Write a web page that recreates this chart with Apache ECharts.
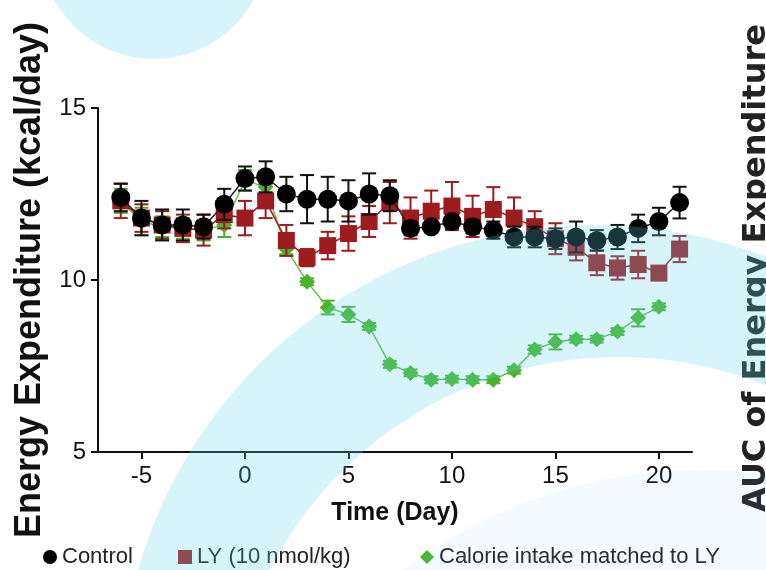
<!DOCTYPE html>
<html>
<head>
<meta charset="UTF-8">
<title>Energy Expenditure</title>
<script src="https://cdn.jsdelivr.net/npm/echarts@6/dist/echarts.min.js"></script>
<style>
  html, body { margin:0; padding:0; background:#fff; }
  #chart { width:766px; height:570px; }
</style>
</head>
<body>
<div id="chart"></div>
<script>
// days of the study, day 0 = first dose
var days = [-6,-5,-4,-3,-2,-1,0,1,2,3,4,5,6,7,8,9,10,11,12,13,14,15,16,17,18,19,20,21];
var xTicks = [-5,0,5,10,15,20];

// Control
var control    = [12.4,11.8,11.6,11.6,11.55,12.2,12.95,13.0,12.5,12.35,12.35,12.3,12.5,12.45,11.5,11.55,11.7,11.55,11.45,11.25,11.25,11.2,11.25,11.15,11.25,11.5,11.7,12.25];
var controlSem = [0.4,0.5,0.45,0.45,0.35,0.45,0.35,0.45,0.5,0.7,0.65,0.6,0.6,0.45,0.2,0.15,0.2,0.2,0.25,0.3,0.3,0.3,0.45,0.3,0.35,0.4,0.4,0.46];

// LY (10 nmol/kg)
var ly    = [12.3,11.8,11.6,11.5,11.45,11.9,11.8,12.3,11.15,10.65,11.0,11.35,11.7,12.25,11.8,12.0,12.15,11.85,12.05,11.8,11.55,11.2,10.95,10.5,10.35,10.45,10.2,10.9];
var lySem = [0.5,0.4,0.4,0.4,0.45,0.4,0.5,0.5,0.45,0.25,0.4,0.5,0.45,0.6,0.6,0.6,0.7,0.6,0.65,0.6,0.45,0.45,0.38,0.36,0.34,0.4,0.15,0.38];

// Calorie intake matched to LY (no day 21)
var pairDays = [-6,-5,-4,-3,-2,-1,0,1,2,3,4,5,6,7,8,9,10,11,12,13,14,15,16,17,18,19,20];
var pair     = [12.3,11.7,11.55,11.5,11.45,11.6,12.9,12.7,10.9,9.95,9.2,9.0,8.65,7.55,7.3,7.1,7.12,7.1,7.1,7.38,7.98,8.2,8.28,8.28,8.5,8.9,9.22];
var pairSem  = [0.35,0.4,0.3,0.3,0.3,0.35,0.3,0.3,0.15,0.1,0.2,0.22,0.1,0.1,0.1,0.1,0.1,0.1,0.1,0.1,0.12,0.22,0.1,0.1,0.1,0.25,0.1];

var names = ['Control', 'LY (10 nmol/kg)', 'Calorie intake matched to LY'];
var colors = ['#000000', '#9c1c1f', '#48b42a'];

function pts(xs, ys) {
  return xs.map(function (x, i) { return [x, ys[i]]; });
}
function errData(xs, ys, es) {
  return xs.map(function (x, i) { return [x, ys[i] - es[i], ys[i] + es[i]]; });
}
function errBars(color, cap) {
  return function (params, api) {
    var lo = api.coord([api.value(0), api.value(1)]);
    var hi = api.coord([api.value(0), api.value(2)]);
    var st = { stroke: color, lineWidth: 2 };
    return { type: 'group', children: [
      { type: 'line', shape: { x1: lo[0], y1: lo[1], x2: hi[0], y2: hi[1] }, style: st },
      { type: 'line', shape: { x1: lo[0] - cap, y1: lo[1], x2: lo[0] + cap, y2: lo[1] }, style: st },
      { type: 'line', shape: { x1: hi[0] - cap, y1: hi[1], x2: hi[0] + cap, y2: hi[1] }, style: st }
    ]};
  };
}

// background swoosh: big circle with a smaller (off-centre) hole
function holedCircle(c1, r1, c2, r2) {
  var out = [], n = 240, i, t;
  for (i = 0; i <= n; i++) { t = 2 * Math.PI * i / n; out.push([c1[0] + r1 * Math.cos(t), c1[1] + r1 * Math.sin(t)]); }
  for (i = n; i >= 0; i--) { t = 2 * Math.PI * i / n; out.push([c2[0] + r2 * Math.cos(t), c2[1] + r2 * Math.sin(t)]); }
  return out;
}

var chart = echarts.init(document.getElementById('chart'));
var tint = 'rgba(100,210,240,0.25)';

var option = {
  animation: false,
  backgroundColor: '#fff',
  textStyle: { fontFamily: 'Liberation Sans, Arial, sans-serif', color: '#111' },
  grid: { left: 98, right: 74, top: 108, bottom: 118 },
  legend: [
    { left: 38, top: 541, itemWidth: 14, itemHeight: 14, selectedMode: false,
      textStyle: { fontSize: 22, color: '#222' }, data: [{ name: names[0], icon: 'circle' }] },
    { left: 173, top: 541, itemWidth: 14, itemHeight: 14, selectedMode: false,
      textStyle: { fontSize: 22, color: '#222' }, data: [{ name: names[1], icon: 'rect' }] },
    { left: 415, top: 541, itemWidth: 14, itemHeight: 14, selectedMode: false,
      textStyle: { fontSize: 22, color: '#222' }, data: [{ name: names[2], icon: 'diamond' }] }
  ],
  xAxis: {
    type: 'value', min: -7.1, max: 21.6,
    name: 'Time (Day)', nameLocation: 'middle', nameGap: 49,
    nameTextStyle: { fontSize: 25, fontWeight: 'bold', color: '#111' },
    axisLine: { onZero: false, lineStyle: { color: '#111', width: 2 } },
    axisTick: { length: 7, lineStyle: { width: 2, color: '#111' }, customValues: xTicks },
    axisLabel: { fontSize: 24, color: '#111', margin: 12, customValues: xTicks },
    splitLine: { show: false }
  },
  yAxis: {
    type: 'value', min: 5, max: 15, interval: 5,
    name: 'Energy Expenditure (kcal/day)', nameLocation: 'middle', nameGap: 46, nameRotate: 90,
    nameTextStyle: { fontSize: 36, fontWeight: 'bold', color: '#111' },
    axisLine: { show: true, onZero: false, lineStyle: { color: '#111', width: 2 } },
    axisTick: { show: true, length: 7, lineStyle: { width: 2, color: '#111' } },
    axisLabel: { fontSize: 24, color: '#111', margin: 12 },
    splitLine: { show: false }
  },
  series: [
    { type: 'custom', name: names[2] + ' sem', z: 2, renderItem: errBars(colors[2], 7),
      encode: { x: 0, y: [1, 2] }, data: errData(pairDays, pair, pairSem) },
    { type: 'line', name: names[2], z: 3, data: pts(pairDays, pair), symbol: 'diamond', symbolSize: 16,
      itemStyle: { color: colors[2] }, lineStyle: { color: '#62c246', width: 1.5 } },
    { type: 'custom', name: names[1] + ' sem', z: 4, renderItem: errBars(colors[1], 7),
      encode: { x: 0, y: [1, 2] }, data: errData(days, ly, lySem) },
    { type: 'line', name: names[1], z: 5, data: pts(days, ly), symbol: 'rect', symbolSize: 17,
      itemStyle: { color: colors[1] }, lineStyle: { color: colors[1], width: 1.5 } },
    { type: 'custom', name: names[0] + ' sem', z: 6, renderItem: errBars('#111', 7),
      encode: { x: 0, y: [1, 2] }, data: errData(days, control, controlSem) },
    { type: 'line', name: names[0], z: 7, data: pts(days, control), symbol: 'circle', symbolSize: 19,
      itemStyle: { color: colors[0] }, lineStyle: { color: '#222', width: 1.5 } }
  ],
  graphic: [
    { type: 'text', z: 50, silent: true, x: 741, y: 268, rotation: Math.PI / 2,
      style: { text: 'AUC of Energy Expenditure', fill: '#222', font: 'bold 32px "DejaVu Sans"',
               align: 'center', verticalAlign: 'top' } },
    { type: 'circle', z: 100, silent: true, shape: { cx: 154, cy: -55, r: 114 }, style: { fill: tint } },
    { type: 'polygon', z: 100, silent: true, shape: { points: holedCircle([595, 700], 475, [619, 750], 393) },
      style: { fill: tint } },
    { type: 'circle', z: 100, silent: true, shape: { cx: 700, cy: 960, r: 490 },
      style: { fill: 'rgba(100,210,240,0.08)' } }
  ]
};
chart.setOption(option);
</script>
</body>
</html>
